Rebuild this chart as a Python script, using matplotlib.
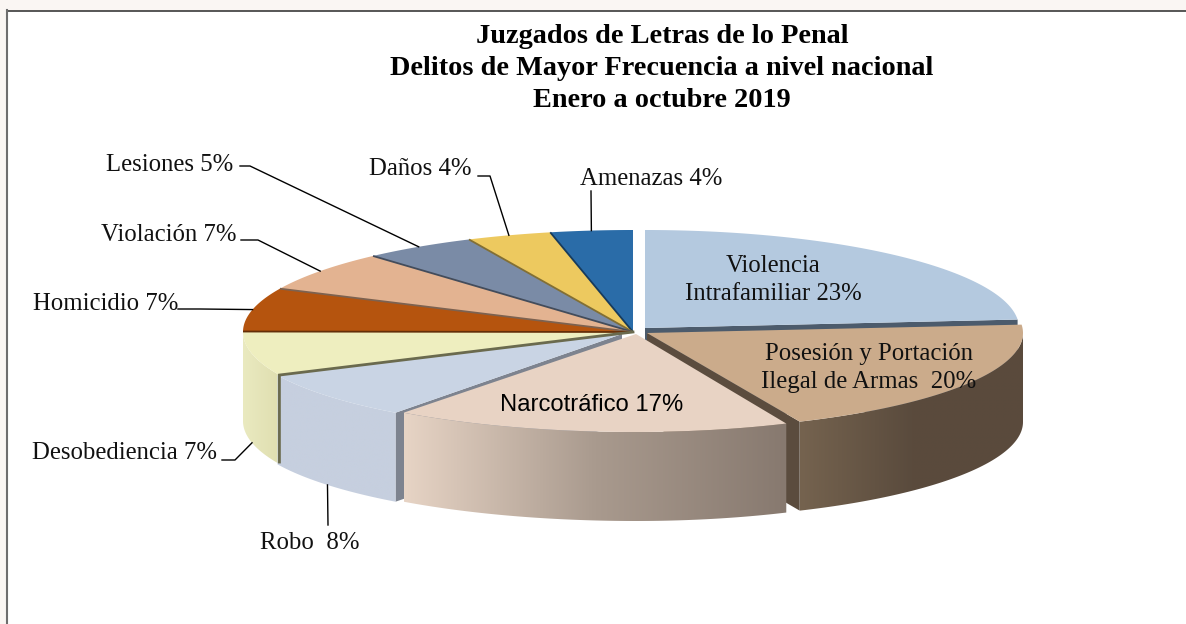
import numpy as np
import matplotlib
matplotlib.use("Agg")
import matplotlib.pyplot as plt
from matplotlib.colors import LinearSegmentedColormap, to_rgb
from matplotlib.patches import Polygon, Rectangle

# Data, clockwise from 12 o'clock
labels = ["Violencia\nIntrafamiliar 23%", "Posesión y Portación\nIlegal de Armas  20%", "Narcotráfico 17%",
          "Robo  8%", "Desobediencia 7%", "Homicidio 7%", "Violación 7%", "Lesiones 5%", "Daños 4%", "Amenazas 4%"]
shares = [23.6, 19.7, 16.8, 7.9, 7.0, 6.9, 6.4, 4.7, 3.5, 3.4]
colors = ["#b4c9df", "#cbab8b", "#e8d3c4", "#c9d4e4", "#eeeebf", "#b5540e", "#e3b391", "#7a8ba6", "#edc95f", "#2a6ca8"]
title = "Juzgados de Letras de lo Penal\nDelitos de Mayor Frecuencia a nivel nacional\nEnero a octubre 2019"

# Layout, in pixels of the picture
# center x, center y, radius left, radius right, radius vertical
geometry = [(645, 328, 374, 374, 98), (647, 333, 376, 376, 97), (636, 334, 390, 370, 98), (622, 334, 380, 380, 98)] \
    + [(633, 332, 390, 390, 102)] * 6
depth = 89
label_pos = [(773, 280), (869, 368), (592, 405), (310, 543), (124, 453), (106, 304), (169, 235), (170, 165), (420, 169), (651, 179)]
# leader elbows from the label towards the slice
elbows = [None, None, None, [(328, 525)], [(222, 460), (235, 460)], [(178, 309), (200, 309)],
          [(241, 240), (258, 240)], [(240, 166), (250, 166)], [(478, 176), (490, 176)], [(591, 191)]]

edges = np.concatenate([[0], np.cumsum(shares)]) / np.sum(shares) * 360


def point(i, theta, drop=0):
    cx, cy, rl, rr, ry = geometry[i]
    s = np.sin(np.radians(theta))
    x = cx + np.where(s > 0, rr, rl) * s
    y = cy - ry * np.cos(np.radians(theta)) + drop
    return np.column_stack([x, y])


def arc(i, a, b, drop=0):
    return point(i, np.linspace(a, b, 80), drop)


def darker(c, f):
    return tuple(np.array(to_rgb(c)) * f)


def top_face(i):
    apex = [geometry[i][:2]]
    pts = np.vstack([apex, arc(i, edges[i], edges[i + 1])])
    ax.add_patch(Polygon(pts, closed=True, fc=colors[i], ec="none"))


def radial_wall(i, theta, color):
    apex = np.array(geometry[i][:2], dtype=float)
    outer = point(i, theta)[0]
    pts = [apex, outer, outer + [0, depth], apex + [0, depth]]
    ax.add_patch(Polygon(pts, closed=True, fc=color, ec="none"))


def outer_wall(i, a, b, ramp):
    top = arc(i, a, b)
    pts = np.vstack([top, top[::-1] + [0, depth]])
    patch = Polygon(pts, closed=True, fc="none", ec="none")
    ax.add_patch(patch)
    cmap = LinearSegmentedColormap.from_list("wall", ramp)
    grad = np.linspace(0, 1, 256).reshape(1, -1)
    im = ax.imshow(grad, cmap=cmap, aspect="auto", interpolation="bilinear", zorder=1,
                   extent=[pts[:, 0].min(), pts[:, 0].max(), pts[:, 1].max(), pts[:, 1].min()])
    im.set_clip_path(patch)


fig = plt.figure(figsize=(11.86, 6.24), dpi=100, facecolor="#faf6f3")
ax = fig.add_axes([0, 0, 1, 1])
ax.axis("off")

# Frame
ax.add_patch(Rectangle((7, 10.5), 1180, 620, fc="white", ec="none"))
ax.plot([7, 1186], [10.5, 10.5], color="#3a3a3a", lw=1.2)
ax.plot([7, 7], [10, 624], color="#6e6e6e", lw=1.5)

# Back slices, each with a thin dark edge
for i in range(9, 4, -1):
    top_face(i)
    ax.plot(*np.vstack([geometry[i][:2], point(i, edges[i])]).T, color=darker(colors[i], 0.55), lw=1.3, solid_capstyle="butt")

# Violencia
radial_wall(0, edges[1], "#4c5b6c")
top_face(0)

# Posesion
outer_wall(1, 90, edges[2], ["#75634f", "#5a4b3d", "#5a4a3c"])
radial_wall(1, edges[2], "#5b4c3e")
top_face(1)

# Desobediencia
outer_wall(4, edges[4], edges[5], ["#eaeac0", "#dfdeb0"])
top_face(4)
p = point(4, edges[4])[0]
ax.plot([geometry[4][0], p[0], p[0]], [geometry[4][1], p[1], p[1] + depth - 2], color="#6a6a4e", lw=2, solid_joinstyle="miter")

# Robo
radial_wall(3, edges[3], "#7d838f")
outer_wall(3, edges[3], edges[4], ["#c6cfdf", "#c6cfdf"])
top_face(3)

# Narcotrafico
outer_wall(2, edges[2], edges[3], ["#e7d4c5", "#a99a8e", "#87796f"])
top_face(2)

# Leaders
for i, el in enumerate(elbows):
    if el is None:
        continue
    mid = (edges[i] + edges[i + 1]) / 2
    front = np.cos(np.radians(mid)) < 0
    end = point(i, mid, depth if front else 0)
    pts = np.vstack([el, end])
    ax.plot(pts[:, 0], pts[:, 1], color="black", lw=1)

# Text
serif = ["Liberation Serif", "DejaVu Serif"]
for i, (lab, pos) in enumerate(zip(labels, label_pos)):
    if i == 2:
        ax.text(pos[0], pos[1], lab, ha="center", va="center", fontsize=17.2, family="Liberation Sans", color="black")
    else:
        ax.text(pos[0], pos[1], lab, ha="center", va="center", fontsize=17.8, family=serif, color="#111111",
                linespacing=1.38)
ax.text(662, 68.5, title, ha="center", va="center", fontsize=20.3, fontweight="bold", family=serif, linespacing=1.38)

ax.set_xlim(0, 1186)
ax.set_ylim(624, 0)
fig.savefig("out.png", dpi=100, facecolor=fig.get_facecolor())
